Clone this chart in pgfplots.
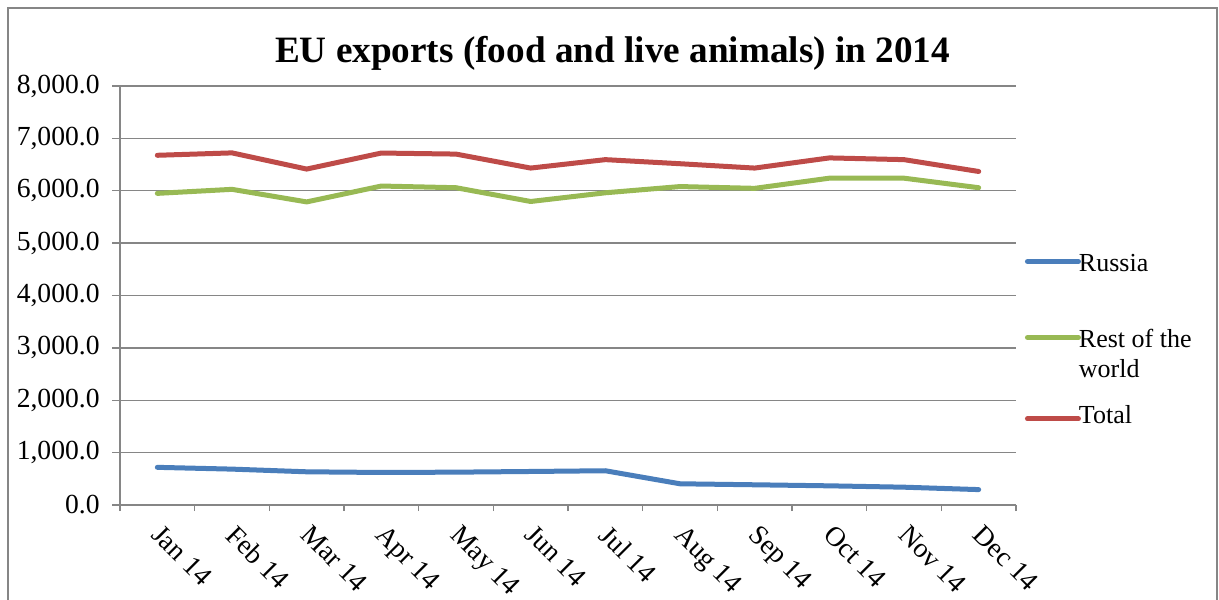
\documentclass[border=0pt]{standalone}
\usepackage{pgfplots}
\pgfplotsset{compat=1.18}
\usepackage{fontspec}
\setmainfont{Liberation Serif}
\definecolor{cRus}{HTML}{4A7EBB}
\definecolor{cRest}{HTML}{98B954}
\definecolor{cTot}{HTML}{BE4B48}
\definecolor{cGrid}{HTML}{868686}
\begin{document}
\begin{tikzpicture}
\path[use as bounding box] (0,0) rectangle (609.5pt,299.5pt);
\draw[cGrid, line width=1pt] (608.25pt,-5pt) -- (608.25pt,295.5pt) -- (3.75pt,295.5pt) -- (3.75pt,-5pt);
\node[anchor=base, font=\fontsize{18.6}{22}\selectfont\bfseries, inner sep=0pt] at (306.25pt,268pt) {EU exports (food and live animals) in 2014};
\begin{axis}[
  at={(60pt,47pt)}, anchor=south west,
  scale only axis, width=448pt, height=209.5pt,
  xmin=-0.5, xmax=11.5, ymin=0, ymax=8000,
  axis x line*=bottom, axis y line*=left,
  axis line style={cGrid, line width=0.75pt, -},
  xtick={0,...,11},
  xticklabels={Jan 14,Feb 14,Mar 14,Apr 14,May 14,Jun 14,Jul 14,Aug 14,Sep 14,Oct 14,Nov 14,Dec 14},
  minor xtick={-0.5,0.5,...,11.5},
  major x tick style={draw=none},
  minor x tick style={cGrid, line width=0.75pt},
  ytick={0,1000,...,8000},
  ymajorgrids,
  major grid style={cGrid, line width=0.75pt},
  y tick style={cGrid, line width=0.75pt},
  tick align=outside,
  major tick length=4pt, minor tick length=3pt,
  tick label style={font=\fontsize{13.8}{16}\selectfont},
  xticklabel style={rotate=-45, anchor=north west, inner sep=0pt, xshift=5.6pt, yshift=-1.4pt},
  yticklabel style={anchor=east, inner sep=0pt, xshift=-6pt},
  /pgf/number format/.cd, fixed, fixed zerofill, precision=1, 1000 sep={,}, assume math mode=true,
  /pgfplots/.cd,
  legend cell align=left,
  legend style={draw=none, fill=none, at={(1.01,0.6062)}, anchor=north west, inner sep=0pt, outer sep=0pt,
    row sep=11.5pt, column sep=-1pt,
    font=\fontsize{13}{15}\selectfont,
    nodes={inner ysep=0pt, inner xsep=0pt, align=left}},
  every axis plot/.append style={line width=2.5pt, line join=round, line cap=round},
]
\addplot[cRus, legend image code/.code={\draw[cRus, line width=2.5pt, line cap=round] (0.5pt,8pt) -- (26pt,8pt);}] coordinates {
(0,719) (1,685) (2,634) (3,621) (4,627) (5,640) (6,654) (7,405) (8,386) (9,366) (10,340) (11,294)};
\addlegendentry{\rule[-5pt]{0pt}{15pt}Russia\\\rule[-5pt]{0pt}{15pt}}
\addplot[cRest, legend image code/.code={\draw[cRest, line width=2.5pt, line cap=round] (0.5pt,8pt) -- (26pt,8pt);}] coordinates {
(0,5950) (1,6027) (2,5787) (3,6090) (4,6058) (5,5795) (6,5961) (7,6080) (8,6046) (9,6240) (10,6240) (11,6058)};
\addlegendentry{\rule[-5pt]{0pt}{15pt}Rest of the\\\rule[-5pt]{0pt}{15pt}world}
\addplot[cTot, legend image code/.code={\draw[cTot, line width=2.5pt, line cap=round] (0.5pt,-2.2pt) -- (26pt,-2.2pt);}] coordinates {
(0,6677) (1,6723) (2,6414) (3,6720) (4,6700) (5,6433) (6,6594) (7,6516) (8,6433) (9,6627) (10,6594) (11,6368)};
\addlegendentry{\rule[-5pt]{0pt}{15pt}Total}
\end{axis}
\end{tikzpicture}
\end{document}
